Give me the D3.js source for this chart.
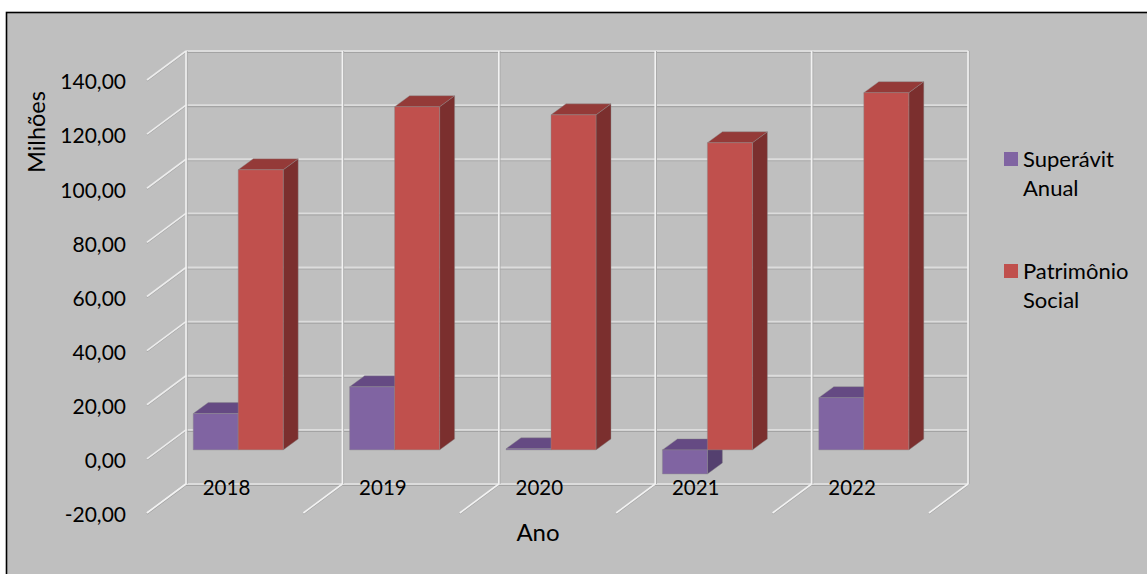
<!DOCTYPE html>
<html><head><meta charset="utf-8">
<script src="https://cdn.jsdelivr.net/npm/d3@7/dist/d3.min.js"></script>
<style>html,body{margin:0;padding:0;background:#fff}svg{display:block}text{font-family:Lato,"Open Sans",sans-serif;fill:#000}</style>
</head><body><div id="c"></div>
<script>
const years = ["2018","2019","2020","2021","2022"];
const superavit = [13.4,23.3,0.4,-8.9,19.3];
const patrimonio = [103.5,126.8,123.8,113.5,132];
const yTicks = [-20,0,20,40,60,80,100,120,140];
const seriesNames = ["Superávit Anual","Patrimônio Social"];
const seriesFront = ["#8064a2","#c0504d"];
const seriesTop = ["#654a83","#943a38"];
const seriesSide = ["#54406f","#7b2f2e"];

const W=1147,H=574;
const svg=d3.select("#c").append("svg").attr("width",W).attr("height",H);
svg.append("rect").attr("x",6.5).attr("y",12.5).attr("width",W).attr("height",H).attr("fill","#bfbfbf").attr("stroke","#000").attr("stroke-width",1.6);

const y=d3.scaleLinear().domain([-20,140]).range([484,51]);
const xBand=d3.scaleBand().domain(years).range([186,968]);
const wallX=years.map(d=>xBand(d)).concat([968]);
const floorDx=-39,floorDy=29;
const barFront={dx:-26,dy:20}, barDepth={dx:15,dy:-11};
const inner=d3.scaleBand().domain([0,1]).range([0,xBand.bandwidth()]).paddingInner(0).paddingOuter(0.738);

const g=svg.append("g");
yTicks.forEach(t=>{
  const yy=y(t);
  g.append("line").attr("x1",186).attr("x2",968).attr("y1",yy+1.5).attr("y2",yy+1.5).attr("stroke","#a3a3a3").attr("stroke-width",1.2);
  g.append("line").attr("x1",186).attr("x2",968).attr("y1",yy).attr("y2",yy).attr("stroke","#dcdcdc").attr("stroke-width",1.8);
  g.append("line").attr("x1",186).attr("x2",186+floorDx).attr("y1",yy+1).attr("y2",yy+floorDy+1).attr("stroke","#a3a3a3").attr("stroke-width",1.2);
  g.append("line").attr("x1",186).attr("x2",186+floorDx).attr("y1",yy).attr("y2",yy+floorDy).attr("stroke","#ececec").attr("stroke-width",1.6);
});
wallX.forEach(x=>{
  g.append("line").attr("x1",x+1.2).attr("x2",x+1.2).attr("y1",y(140)).attr("y2",y(-20)).attr("stroke","#a8a8a8").attr("stroke-width",1);
  g.append("line").attr("x1",x).attr("x2",x).attr("y1",y(140)).attr("y2",y(-20)).attr("stroke","#f2f2f2").attr("stroke-width",1.6);
  g.append("line").attr("x1",x).attr("x2",x+floorDx).attr("y1",y(-20)+1).attr("y2",y(-20)+floorDy+1).attr("stroke","#a3a3a3").attr("stroke-width",1.2);
  g.append("line").attr("x1",x).attr("x2",x+floorDx).attr("y1",y(-20)).attr("y2",y(-20)+floorDy).attr("stroke","#f2f2f2").attr("stroke-width",1.6);
});

const pts=a=>a.map(p=>p.join(",")).join(" ");
function bar(i,val,s){
  const x0=xBand(years[i])+barFront.dx+inner(s), x1=x0+inner.bandwidth();
  const yTop=y(Math.max(val,0))+barFront.dy, yBot=y(Math.min(val,0))+barFront.dy;
  const dx=barDepth.dx,dy=barDepth.dy;
  const b=svg.append("g").attr("stroke","#8c8c8c").attr("stroke-width",.6).attr("stroke-opacity",.7).attr("stroke-linejoin","round");
  b.append("polygon").attr("points",pts([[x1,yTop],[x1+dx,yTop+dy],[x1+dx,yBot+dy],[x1,yBot]])).attr("fill",seriesSide[s]);
  b.append("polygon").attr("points",pts([[x0,yTop],[x0+dx,yTop+dy],[x1+dx,yTop+dy],[x1,yTop]])).attr("fill",seriesTop[s]);
  b.append("rect").attr("x",x0).attr("y",yTop).attr("width",x1-x0).attr("height",Math.max(yBot-yTop,.5)).attr("fill",seriesFront[s]);
}
years.forEach((d,i)=>{bar(i,superavit[i],0);bar(i,patrimonio[i],1);});

const fmt=v=>d3.format(".2f")(v).replace(".",",").replace("−","-");
svg.selectAll(".yt").data(yTicks).join("text").attr("class","yt")
  .attr("x",126).attr("y",d=>y(d)+floorDy+2).attr("dy","0.35em").attr("text-anchor","end")
  .attr("font-size",21).text(fmt);
svg.selectAll(".xt").data(years).join("text").attr("class","xt")
  .attr("x",d=>xBand(d)+40.5).attr("y",488).attr("dy","0.35em").attr("text-anchor","middle")
  .attr("font-size",20.5).text(d=>d);
svg.append("text").attr("transform","translate(37,132) rotate(-90)").attr("text-anchor","middle").attr("dy","0.35em").attr("font-size",23.5).text("Milhões");
svg.append("text").attr("x",538).attr("y",533).attr("text-anchor","middle").attr("dy","0.35em").attr("font-size",24).text("Ano");
const legY=[159,271];
seriesNames.forEach((n,i)=>{
  svg.append("rect").attr("x",1004).attr("y",legY[i]-7).attr("width",14).attr("height",14).attr("fill",seriesFront[i]);
  n.split(" ").forEach((p,k)=>{
    svg.append("text").attr("x",1023).attr("y",legY[i]+k*29).attr("dy","0.35em").attr("font-size",22).text(p);
  });
});
</script></body></html>
